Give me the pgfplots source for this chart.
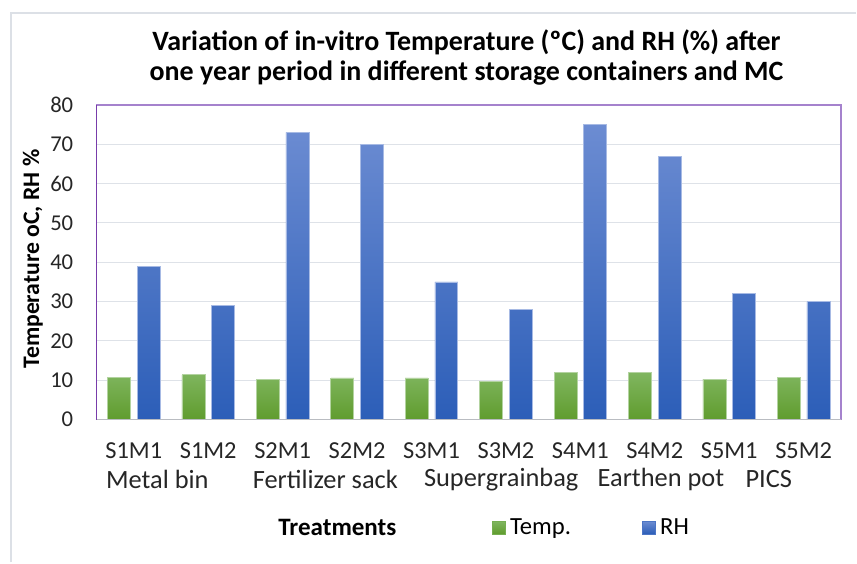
\documentclass[border=0pt]{standalone}
\usepackage{pgfplots}
\pgfplotsset{compat=1.18}
\usepackage{fontspec}
\setmainfont{Carlito}
\definecolor{bluetop}{RGB}{108,140,210}
\definecolor{bluebot}{RGB}{44,94,184}
\definecolor{greentop}{RGB}{128,182,96}
\definecolor{greenbot}{RGB}{96,156,46}
\definecolor{framepurple}{RGB}{165,130,205}
\definecolor{leftpurple}{RGB}{120,60,170}
\definecolor{gridgray}{RGB}{222,226,232}
\definecolor{bordergray}{RGB}{220,224,230}
\begin{document}
\begin{tikzpicture}
\path (0,0) rectangle (642.75pt,422.25pt);
\draw[bordergray, line width=1.2pt] (8.25pt,0) -- (8.25pt,412.5pt) -- (642.75pt,412.5pt);
\begin{axis}[
  at={(72.5pt,107.25pt)}, anchor=south west,
  scale only axis, width=558.75pt, height=236.25pt,
  ybar=5pt, bar width=17.25pt,
  xmin=-0.5, xmax=9.5, ymin=0, ymax=80,
  ytick={0,10,...,80},
  xtick=data,
  xticklabels={S1M1,S1M2,S2M1,S2M2,S3M1,S3M2,S4M1,S4M2,S5M1,S5M2},
  major tick length=0pt,
  ymajorgrids, grid style={gridgray, line width=0.8pt},
  axis line style={framepurple, line width=1pt},
  /pgf/number format/assume math mode=true,
  tick label style={text=black!85},
  yticklabel style={xshift=-14pt, font=\fontsize{17}{20}\selectfont},
  xticklabel style={yshift=-14pt, font=\fontsize{18.3}{21}\selectfont},
  clip=false,
  legend style={draw=none, fill=none, at={(rel axis cs:0.531,-0.343)}, anchor=west,
    legend columns=2, font=\fontsize{18.5}{21}\selectfont, inner sep=0pt,
    nodes={inner sep=3.5pt},
    /tikz/every even column/.append style={column sep=50pt}},
]
\addplot[draw=greentop!60!white, line width=0.5pt, top color=greentop, bottom color=greenbot,
  legend image code/.code={\fill[greentop!70!greenbot] (0pt,-4.75pt) rectangle (9.5pt,4.75pt);}]
  coordinates {(0,10.8) (1,11.4) (2,10.3) (3,10.6) (4,10.6) (5,9.8) (6,12.1) (7,12.1) (8,10.3) (9,10.8)};
\addplot[draw=bluetop!60!white, line width=0.5pt, top color=bluetop, bottom color=bluebot,
  legend image code/.code={\fill[bluetop!50!bluebot] (0pt,-4.75pt) rectangle (9.5pt,4.75pt);}]
  coordinates {(0,39) (1,29) (2,73) (3,70) (4,35) (5,28) (6,75) (7,67) (8,32) (9,30)};
\legend{Temp.,RH}
\draw[leftpurple, line width=1pt] (rel axis cs:0,0) -- (rel axis cs:0,1);
\draw[gridgray!80!black!90, line width=1.2pt] (rel axis cs:0,0) -- (rel axis cs:1,0);
\node[font=\bfseries\fontsize{21}{22.5}\selectfont, align=center] at (rel axis cs:0.497,1.152)
  {Variation of in-vitro Temperature (ºC) and RH (\%) after\\one year period in different storage containers and MC};
\node[xshift=-47.8pt, rotate=90, font=\bfseries\fontsize{17.8}{20}\selectfont] at (rel axis cs:0,0.51)
  {Temperature oC, RH \%};
\node[font=\bfseries\fontsize{18.8}{21}\selectfont] at (rel axis cs:0.3235,-0.343) {Treatments};
\node[font=\fontsize{19.8}{22}\selectfont, anchor=west, inner sep=0pt, text=black!85] at (rel axis cs:0.0125,-0.19) {Metal bin};
\node[font=\fontsize{19.8}{22}\selectfont, anchor=west, inner sep=0pt, text=black!85] at (rel axis cs:0.2095,-0.19) {Fertilizer sack};
\node[font=\fontsize{19.8}{22}\selectfont, anchor=west, inner sep=0pt, text=black!85] at (rel axis cs:0.4396,-0.19) {Supergrainbag};
\node[font=\fontsize{19.8}{22}\selectfont, anchor=west, inner sep=0pt, text=black!85] at (rel axis cs:0.6729,-0.19) {Earthen pot};
\node[font=\fontsize{19.8}{22}\selectfont, anchor=west, inner sep=0pt, text=black!85] at (rel axis cs:0.8715,-0.19) {PICS};
\end{axis}
\end{tikzpicture}
\end{document}
